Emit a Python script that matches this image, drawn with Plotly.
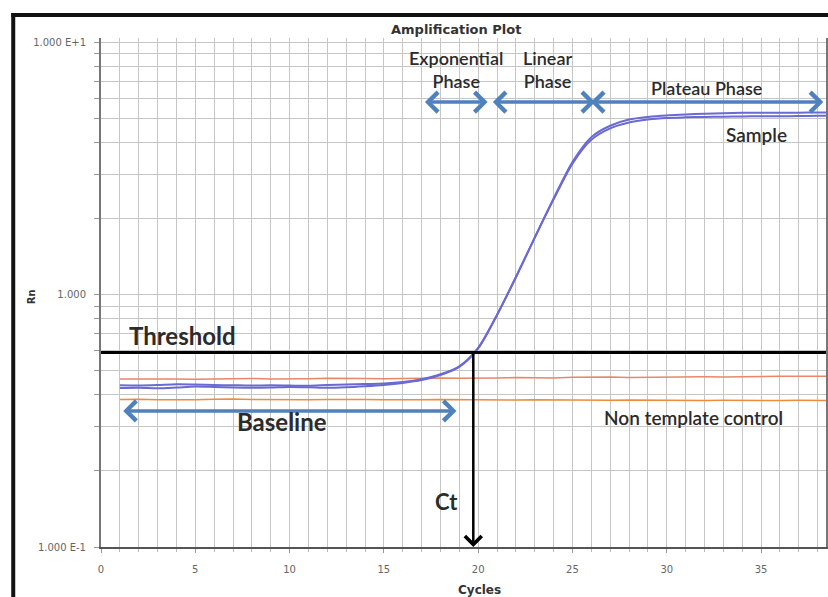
import numpy as np
import plotly.graph_objects as go

# ---- data -------------------------------------------------------------
cycles = list(range(1, 41))

sample_a = [0.437, 0.436, 0.438, 0.441, 0.440, 0.438, 0.437, 0.436, 0.437, 0.436,
            0.435, 0.438, 0.440, 0.442, 0.444, 0.450, 0.462, 0.483, 0.520, 0.615,
            0.830, 1.170, 1.680, 2.400, 3.350, 4.200, 4.660, 4.930, 5.050, 5.120,
            5.160, 5.200, 5.220, 5.240, 5.250, 5.240, 5.250, 5.260, 5.260, 5.260]

sample_b = [0.426, 0.427, 0.425, 0.428, 0.432, 0.430, 0.428, 0.427, 0.428, 0.430,
            0.429, 0.427, 0.429, 0.433, 0.438, 0.446, 0.458, 0.480, 0.517, 0.612,
            0.830, 1.170, 1.680, 2.380, 3.300, 4.100, 4.550, 4.800, 4.930, 5.000,
            5.030, 5.050, 5.060, 5.070, 5.080, 5.080, 5.090, 5.100, 5.100, 5.100]

ntc_high = [0.463, 0.464, 0.465, 0.463, 0.462, 0.464, 0.466, 0.465, 0.463, 0.462,
            0.464, 0.466, 0.467, 0.465, 0.464, 0.466, 0.468, 0.467, 0.466, 0.465,
            0.467, 0.469, 0.468, 0.467, 0.470, 0.472, 0.471, 0.469, 0.470, 0.472,
            0.473, 0.472, 0.471, 0.473, 0.475, 0.474, 0.474, 0.475, 0.475, 0.475]

ntc_low = [0.384, 0.385, 0.383, 0.382, 0.383, 0.385, 0.386, 0.384, 0.383, 0.382,
           0.383, 0.384, 0.385, 0.384, 0.383, 0.382, 0.383, 0.384, 0.383, 0.382,
           0.381, 0.382, 0.383, 0.382, 0.381, 0.380, 0.381, 0.382, 0.381, 0.380,
           0.379, 0.380, 0.381, 0.380, 0.379, 0.380, 0.381, 0.380, 0.380, 0.380]

threshold = 0.589

x_tick_vals = [0, 5, 10, 15, 20, 25, 30, 35]
y_decades = [0.1, 1, 10]
y_decade_text = ["1.000 E-1", "1.000", "1.000 E+1"]

# phase spans: (label, start cycle, end cycle, Rn level)
phase_spans = [
    ("baseline", 1.1, 18.85, 0.346),
    ("exponential", 17.1, 20.5, 5.78),
    ("linear", 20.7, 26.2, 5.78),
    ("plateau", 25.9, 38.3, 5.78),
]

# ---- geometry ---------------------------------------------------------
W, H = 828, 597
ML, MR, MT, MB = 101, 0, 38, 50
PW, PH = W - ML - MR, H - MT - MB
X_MAX = PW / 18.91          # cycles visible across the plot width
Y_RANGE = [-1, -1 + PH / 252.5]


def px(x):
    return (x - ML) / PW


def py(y):
    return (H - MB - y) / PH


# Ct: where the sample crosses the threshold (log-linear interpolation)
la = np.log10(sample_a)
lt = np.log10(threshold)
i = int(np.argmax(la >= lt))
ct = cycles[i - 1] + (lt - la[i - 1]) / (la[i] - la[i - 1])

# log grid: every integer multiple within each decade, labels on decades only
y_grid = [round(m * 10.0 ** d, 6) for d in (-1, 0) for m in range(1, 10)] + [10.0]
y_grid_text = [y_decade_text[y_decades.index(v)] if v in y_decades else "" for v in y_grid]

FONT = "Lato"
TICKFONT = "DejaVu Sans"
TXT = "#2b2b2b"
ARROW_BLUE = "#4f81bd"
SAMPLE = "#6a6ad2"

fig = go.Figure()

fig.add_trace(go.Scatter(x=cycles, y=ntc_high, mode="lines",
                         line=dict(color="#e8876a", width=1.5), hoverinfo="skip"))
fig.add_trace(go.Scatter(x=cycles, y=ntc_low, mode="lines",
                         line=dict(color="#ec8c3c", width=1.5), hoverinfo="skip"))
fig.add_trace(go.Scatter(x=cycles, y=sample_b, mode="lines",
                         line=dict(color=SAMPLE, width=2, shape="spline", smoothing=0.8),
                         hoverinfo="skip"))
fig.add_trace(go.Scatter(x=cycles, y=sample_a, mode="lines",
                         line=dict(color=SAMPLE, width=2, shape="spline", smoothing=0.8),
                         hoverinfo="skip"))
fig.add_trace(go.Scatter(x=[0, X_MAX + 1], y=[threshold, threshold], mode="lines",
                         line=dict(color="black", width=3), hoverinfo="skip"))

annotations = []

# double-headed phase arrows
for name, x0, x1, lvl in phase_spans:
    annotations.append(dict(
        x=x1, y=np.log10(lvl), ax=x0, ay=np.log10(lvl),
        xref="x", yref="y", axref="x", ayref="y", text="",
        showarrow=True, arrowhead=4, startarrowhead=4, arrowside="end+start",
        arrowsize=1.1, startarrowsize=1.1, arrowwidth=3.5, arrowcolor=ARROW_BLUE,
        standoff=0, startstandoff=0))

# Ct arrow down to the cycle axis
annotations.append(dict(
    x=ct, y=Y_RANGE[0], ax=ct, ay=lt, xref="x", yref="y", axref="x", ayref="y",
    text="", showarrow=True, arrowhead=4, arrowsize=1.3, arrowwidth=2.5,
    arrowcolor="black", standoff=0))


def label(text, x, y, size, weight=700, color=TXT, **kw):
    annotations.append(dict(text=text, x=x, y=y, xref="x", yref="y", showarrow=False,
                            font=dict(family=FONT, size=size, color=color, weight=weight),
                            xanchor="center", yanchor="middle", **kw))


label("Threshold", 4.3, np.log10(0.687), 24)
label("Baseline", 9.6, np.log10(0.313), 24)
label("Ct", 18.3, np.log10(0.151), 22)
label("Exponential<br>Phase", 18.85, np.log10(7.75), 18, weight=600)
label("Linear<br>Phase", 23.7, np.log10(7.75), 18, weight=600)
label("Plateau Phase", 32.1, np.log10(6.55), 18, weight=600)
label("Sample", 34.75, np.log10(4.32), 19, weight=600)
label("Non template control", 31.4, np.log10(0.325), 19, weight=600)


def paper_text(text, x, y, size, **kw):
    annotations.append(dict(text=text, x=px(x), y=py(y), xref="paper", yref="paper",
                            showarrow=False, xanchor="center", yanchor="middle",
                            font=dict(family=TICKFONT, size=size, color="#333"), **kw))


# title and axis titles
paper_text("<b>Amplification Plot</b>", 457, 30, 13)
paper_text("<b>Rn</b>", 31, 297, 10, textangle=-90)
paper_text("<b>Cycles</b>", 481, 590, 12)

# outer frame (top and left edges)
shapes = [
    dict(type="line", xref="paper", yref="paper", x0=px(11), x1=px(W + 5),
         y0=py(15), y1=py(15), line=dict(color="#111", width=4)),
    dict(type="line", xref="paper", yref="paper", x0=px(13), x1=px(13),
         y0=py(13), y1=py(H + 5), line=dict(color="#111", width=4)),
]

fig.update_layout(
    width=W, height=H,
    margin=dict(l=ML, r=MR, t=MT, b=MB, pad=0),
    paper_bgcolor="white", plot_bgcolor="white",
    showlegend=False,
    annotations=annotations,
    shapes=shapes,
    xaxis=dict(
        range=[0, X_MAX], tickvals=x_tick_vals, ticks="outside", ticklen=4,
        tickcolor="#999", tickfont=dict(family=TICKFONT, size=10, color="#666"),
        ticklabelstandoff=8,
        showgrid=True, gridcolor="#c6c6c6", gridwidth=1,
        minor=dict(dtick=1, showgrid=True, gridcolor="#c6c6c6", gridwidth=1,
                   ticks="outside", ticklen=3, tickcolor="#bbb"),
        showline=True, linecolor="#555", linewidth=2, mirror=False,
        zeroline=False, fixedrange=True,
    ),
    yaxis=dict(
        type="log", range=Y_RANGE, tickmode="array", tickvals=y_grid,
        ticktext=y_grid_text, ticks="outside", ticklen=5, tickcolor="#999",
        tickfont=dict(family=TICKFONT, size=10, color="#666"),
        ticklabelstandoff=6,
        showgrid=True, gridcolor="#c6c6c6", gridwidth=1,
        showline=True, linecolor="#777", linewidth=2, mirror=True,
        zeroline=False, fixedrange=True,
    ),
)

fig.write_html("out.html")
